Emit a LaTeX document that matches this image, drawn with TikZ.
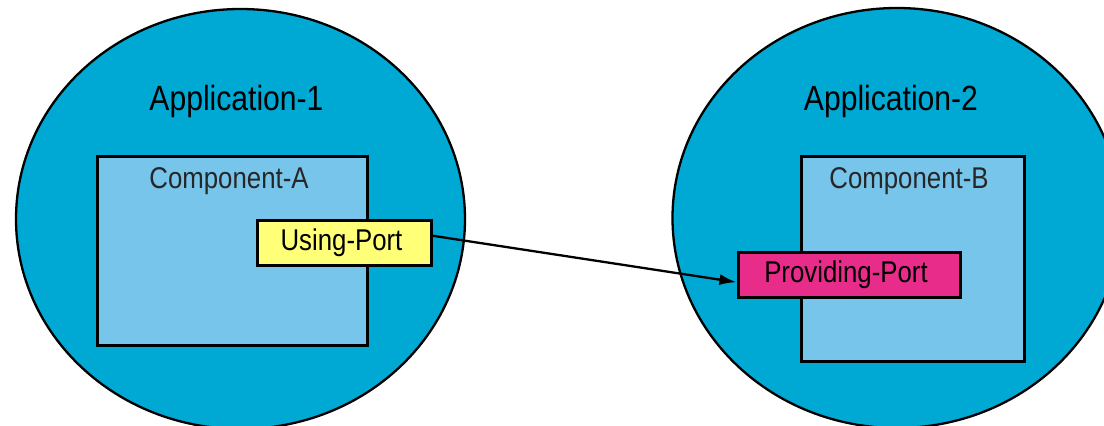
\documentclass[tikz,border=0pt]{standalone}
\usepackage{fontspec}
\setmainfont{Liberation Sans}[FakeStretch=0.86]
\usetikzlibrary{shapes.geometric,arrows.meta,calc}

\definecolor{appblue}{RGB}{0,169,212}
\definecolor{compblue}{RGB}{120,197,235}
\definecolor{useyellow}{RGB}{255,255,120}
\definecolor{providepink}{RGB}{232,44,138}

\tikzset{
  appcircle/.style={ellipse, draw=black, line width=2.3pt, fill=appblue,
    minimum width=449pt, minimum height=420pt, inner sep=0pt},
  apptitle/.style={anchor=base, font=\fontsize{35}{40}\selectfont},
  compbox/.style={rectangle, draw=black, line width=3pt, fill=compblue, inner sep=0pt},
  comptitle/.style={anchor=base, text=black!85, font=\fontsize{30}{34}\selectfont},
  portbox/.style={rectangle, draw=black, line width=3pt, inner sep=0pt,
    minimum height=45pt, font=\fontsize{30}{34}\selectfont},
  wire/.style={line width=2.3pt, -{Latex[length=17pt,width=11pt]}}
}

\begin{document}
\begin{tikzpicture}[x=1pt,y=-1pt]
  \useasboundingbox (0,0) rectangle (1104,426);
  \fill[white] (0,0) rectangle (1104,426);
  \begin{scope}
    \clip (0,0) rectangle (1104,426);

    % the two applications
    \node[appcircle] (app1) at (240.5,219) {};
    \node[appcircle] (app2) at (897,218) {};
    \node[apptitle] (app1title) at (236.5,110) {Application-1};
    \node[apptitle] (app2title) at (891,110) {Application-2};

    % components inside the applications
    \node[compbox, minimum width=270pt, minimum height=189pt] (compA) at (232.5,251) {};
    \node[comptitle] (compAtitle) at (229,188) {Component-A};
    \node[compbox, minimum width=222.5pt, minimum height=205pt] (compB) at (912.75,259) {};
    \node[comptitle] (compBtitle) at (909,188) {Component-B};

    % ports
    \node[portbox, fill=useyellow, minimum width=174pt] (uport) at (344.5,243) {Using-Port\hspace*{6pt}};
    \node[portbox, fill=providepink, minimum width=222pt] (pport) at (849,275) {Providing-Port\hspace*{6pt}};

    % connection from the using port to the providing port
    \draw[wire] ($(uport.north east)!0.35!(uport.south east)$)
      -- ($(pport.north west)!0.65!(pport.south west)$);
  \end{scope}
\end{tikzpicture}
\end{document}
